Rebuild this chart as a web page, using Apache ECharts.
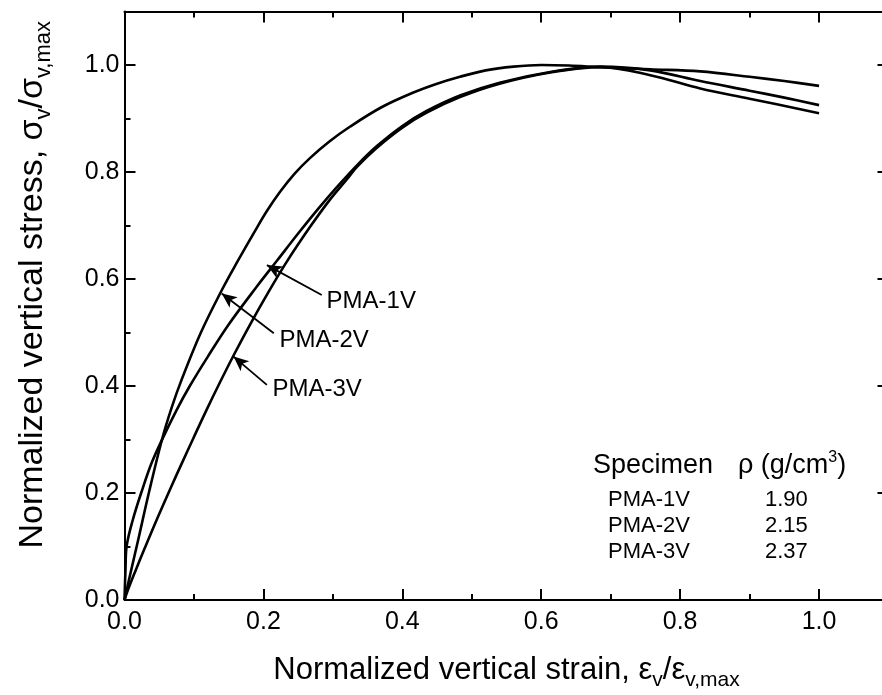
<!DOCTYPE html>
<html><head><meta charset="utf-8">
<script src="https://cdn.jsdelivr.net/npm/echarts@6/dist/echarts.min.js"></script>
<style>html,body{margin:0;padding:0;background:#fff}#c{width:882px;height:695px}</style>
</head><body><div id="c"></div><script>
// ---- data ----
const pma1vStrain = [0, 0.0015, 0.003, 0.012, 0.025, 0.039, 0.056, 0.075, 0.094, 0.12, 0.15, 0.19, 0.22, 0.25, 0.28, 0.308, 0.335, 0.363, 0.40, 0.435, 0.483, 0.54, 0.613, 0.685, 0.757, 0.829, 0.9, 0.95, 1.0];
const pma1vStress = [0, 0.06, 0.1, 0.15, 0.204, 0.256, 0.305, 0.355, 0.40, 0.455, 0.515, 0.585, 0.635, 0.685, 0.733, 0.775, 0.813, 0.848, 0.886, 0.914, 0.943, 0.967, 0.987, 0.997, 0.99, 0.97, 0.952, 0.939, 0.925];
const pma2vStrain = [0, 0.01, 0.02, 0.035, 0.054, 0.068, 0.082, 0.11, 0.14, 0.1615, 0.188, 0.205, 0.224, 0.245, 0.267, 0.295, 0.325, 0.37, 0.415, 0.45, 0.483, 0.52, 0.56, 0.6, 0.64, 0.685, 0.757, 0.829, 0.9, 0.95, 1.0];
const pma2vStress = [0, 0.058, 0.114, 0.2, 0.3, 0.36, 0.411, 0.50, 0.579, 0.63, 0.69, 0.727, 0.763, 0.797, 0.826, 0.857, 0.885, 0.921, 0.948, 0.965, 0.978, 0.99, 0.997, 1.0, 0.999, 0.996, 0.992, 0.988, 0.978, 0.97, 0.961];
const pma3vStrain = [0, 0.005, 0.015, 0.0295, 0.047, 0.066, 0.082, 0.099, 0.118, 0.1375, 0.157, 0.18, 0.207, 0.2335, 0.267, 0.295, 0.32, 0.335, 0.363, 0.40, 0.435, 0.483, 0.54, 0.613, 0.685, 0.757, 0.829, 0.9, 1.0];
const pma3vStress = [0, 0.019, 0.052, 0.098, 0.152, 0.208, 0.254, 0.302, 0.355, 0.407, 0.457, 0.513, 0.575, 0.632, 0.697, 0.747, 0.786, 0.81, 0.845, 0.883, 0.911, 0.94, 0.965, 0.986, 0.996, 0.981, 0.956, 0.937, 0.91];
const specimenNames = ['PMA-1V', 'PMA-2V', 'PMA-3V'];
const densities = ['1.90', '2.15', '2.37'];
const axisMin = 0, axisMax = 1.1, majorStep = 0.2, minorStep = 0.1;

// ---- annotation placement (data coordinates) ----
const labelAnchors = [[0.291, 0.559], [0.223, 0.485], [0.213, 0.393]];
const arrowTails = [[0.284, 0.570], [0.215, 0.4985], [0.205, 0.402]];
const arrowTips = [[0.205, 0.626], [0.140, 0.573], [0.157, 0.455]];

const FONT = '"Liberation Sans", Arial, Helvetica, sans-serif';
const BLACK = '#000';

function zip(xs, ys) { return xs.map((x, i) => [x, ys[i]]); }
function fmt(v) { return v > 1.05 ? '' : v.toFixed(1); }

function makeAxis(dim, position, major, withLabel) {
  return {
    type: 'value', min: axisMin, max: axisMax,
    interval: major ? majorStep : minorStep,
    position: position,
    axisLine: { show: major, onZero: false, lineStyle: { color: BLACK, width: 2 } },
    axisTick: { show: true, inside: true, length: major ? 11 : 6, lineStyle: { color: BLACK, width: 2 } },
    minorTick: { show: false },
    splitLine: { show: false },
    axisLabel: withLabel ? {
      show: true, formatter: fmt, color: BLACK, fontSize: 25, fontFamily: FONT,
      margin: dim === 'x' ? 10 : 5
    } : { show: false }
  };
}

const xAxes = [makeAxis('x', 'bottom', true, true), makeAxis('x', 'bottom', false, false), makeAxis('x', 'top', true, false), makeAxis('x', 'top', false, false)];
const yAxes = [makeAxis('y', 'left', true, true), makeAxis('y', 'left', false, false), makeAxis('y', 'right', true, false), makeAxis('y', 'right', false, false)];

xAxes[0].name = 'Normalized vertical strain, ε{s|v}/ε{s|v,max}';
xAxes[0].nameLocation = 'middle';
xAxes[0].nameGap = 50;
xAxes[0].nameTextStyle = { fontSize: 31, color: BLACK, fontFamily: FONT, rich: { s: { fontSize: 21, color: BLACK, fontFamily: FONT, padding: [20, 0, 0, 0] } } };
yAxes[0].name = 'Normalized vertical stress, σ{s|v}/σ{s|v,max}';
yAxes[0].nameLocation = 'middle';
yAxes[0].nameRotate = 90;
yAxes[0].nameGap = 70;
yAxes[0].nameTextStyle = { fontSize: 34, color: BLACK, fontFamily: FONT, padding: [0, 0, 0, 42], rich: { s: { fontSize: 22, color: BLACK, fontFamily: FONT, padding: [22, 0, 0, 0] } } };

const curves = [
  { name: 'PMA-1V', data: zip(pma1vStrain, pma1vStress) },
  { name: 'PMA-2V', data: zip(pma2vStrain, pma2vStress) },
  { name: 'PMA-3V', data: zip(pma3vStrain, pma3vStress) }
];

const series = curves.map((c, i) => ({
  type: 'line', name: c.name, data: c.data, xAxisIndex: 0, yAxisIndex: 0,
  showSymbol: false, smooth: 0.35, silent: true,
  lineStyle: { color: BLACK, width: 2.6 },
  markLine: {
    silent: true, symbol: ['none', 'arrow'], symbolSize: [10, 15],
    lineStyle: { color: BLACK, width: 1.8, type: 'solid' },
    label: { show: false },
    data: [[{ coord: arrowTails[i] }, { coord: arrowTips[i] }]]
  },
  markPoint: {
    silent: true, symbol: 'circle', symbolSize: 0,
    label: { show: true, position: 'right', distance: 0, color: BLACK, fontSize: 24, fontFamily: FONT, formatter: c.name },
    data: [{ coord: labelAnchors[i] }]
  }
}));

const graphics = [
  { type: 'text', x: 593, y: 466, style: { text: 'Specimen', fontSize: 27, fontFamily: FONT, fill: BLACK, verticalAlign: 'middle' } },
  { type: 'text', x: 738, y: 466, style: { text: 'ρ (g/cm{sup|3})', fontSize: 27, fontFamily: FONT, fill: BLACK, verticalAlign: 'middle', rich: { sup: { fontSize: 16, fontFamily: FONT, fill: BLACK, padding: [0, 0, 17, 0] } } } }
];
const rowY = [500, 526, 552];
specimenNames.forEach((n, i) => {
  graphics.push({ type: 'text', x: 608, y: rowY[i], style: { text: n, fontSize: 22, fontFamily: FONT, fill: BLACK, verticalAlign: 'middle' } });
  graphics.push({ type: 'text', x: 765, y: rowY[i], style: { text: densities[i], fontSize: 22, fontFamily: FONT, fill: BLACK, verticalAlign: 'middle' } });
});

const chart = echarts.init(document.getElementById('c'), null, { renderer: 'canvas' });
chart.setOption({
  backgroundColor: '#fff',
  animation: false,
  grid: { left: 124.5, right: -6.5, top: 11.5, bottom: 95, containLabel: false, outerBoundsMode: 'none' },
  xAxis: xAxes,
  yAxis: yAxes,
  series: series,
  graphic: graphics
});
</script></body></html>
